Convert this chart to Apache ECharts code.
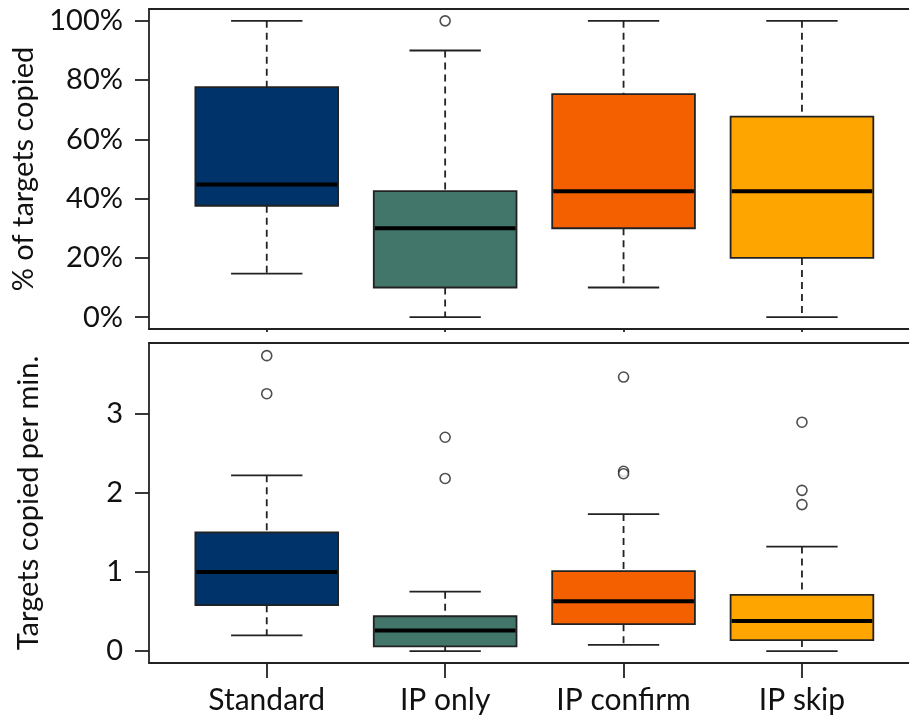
<!DOCTYPE html>
<html>
<head>
<meta charset="utf-8">
<script src="https://cdn.jsdelivr.net/npm/echarts@6/dist/echarts.min.js"></script>
<style>
  html, body { margin: 0; padding: 0; background: #fff; }
  #chart { width: 909px; height: 719px; }
</style>
</head>
<body>
<div id="chart"></div>
<script>
// groups along x
const categories = ['Standard', 'IP only', 'IP confirm', 'IP skip'];
const boxColors = ['#003369', '#42766a', '#f45f00', '#ffa500'];

// top panel: % of targets copied -> [min, Q1, median, Q3, max]
const pctStats = [
  [14.7, 37.6, 44.8, 77.6, 100],
  [0, 10, 30, 42.5, 90],
  [10, 30, 42.5, 75.3, 100],
  [0, 20, 42.5, 67.7, 100]
];
const pctOutliers = [[2, 100]];
const pctTicks = [0, 20, 40, 60, 80, 100];

// bottom panel: targets copied per minute
const rateStats = [
  [0.2, 0.58, 1.0, 1.5, 2.22],
  [0, 0.06, 0.26, 0.44, 0.75],
  [0.08, 0.34, 0.63, 1.01, 1.73],
  [0, 0.14, 0.38, 0.71, 1.32]
];
const rateOutliers = [
  [1, 3.73], [1, 3.25],
  [2, 2.7], [2, 2.18],
  [3, 3.46], [3, 2.27], [3, 2.24],
  [4, 2.89], [4, 2.03], [4, 1.85]
];
const rateTicks = [0, 1, 2, 3];

const chart = echarts.init(document.getElementById('chart'));
const font = 'Lato, "DejaVu Sans", sans-serif';
const ink = '#222';

function renderBox(params, api) {
  const x = api.value(0);
  const lo = api.coord([x, api.value(1)]);
  const q1 = api.coord([x, api.value(2)]);
  const med = api.coord([x, api.value(3)]);
  const q3 = api.coord([x, api.value(4)]);
  const hi = api.coord([x, api.value(5)]);
  const half = api.size([0.8, 0])[0] / 2;
  const cap = half / 2;
  const cx = med[0];
  const line = (x1, y1, x2, y2, extra) => ({
    type: 'line',
    shape: { x1: x1, y1: y1, x2: x2, y2: y2 },
    style: Object.assign({ stroke: ink, lineWidth: 1.8 }, extra || {})
  });
  return {
    type: 'group',
    children: [
      line(cx, hi[1], cx, q3[1], { lineDash: [7, 5] }),
      line(cx, q1[1], cx, lo[1], { lineDash: [7, 5] }),
      line(cx - cap, hi[1], cx + cap, hi[1]),
      line(cx - cap, lo[1], cx + cap, lo[1]),
      {
        type: 'rect',
        shape: { x: cx - half, y: q3[1], width: half * 2, height: q1[1] - q3[1] },
        style: { fill: boxColors[params.dataIndex], stroke: ink, lineWidth: 1.8 }
      },
      line(cx - half + 1, med[1], cx + half - 1, med[1], { stroke: '#000', lineWidth: 4 })
    ]
  };
}

function boxData(stats) {
  return stats.map((s, i) => [i + 1].concat(s));
}

const axisLineStyle = { show: true, onZero: false, lineStyle: { color: ink, width: 1.8 } };
const labelStyle = { fontFamily: font, fontSize: 29, color: '#111' };

function xAxes(gridIndex, showLabels) {
  return [
    {
      type: 'value', gridIndex: gridIndex, min: 0.34, max: 4.6,
      axisLine: axisLineStyle,
      axisTick: { show: true, length: showLabels ? 15 : 3, customValues: [1, 2, 3, 4],
        lineStyle: { color: ink, width: 1.8 } },
      axisLabel: Object.assign({}, labelStyle, { show: showLabels, margin: 22, fontSize: 30,
        customValues: [1, 2, 3, 4], formatter: v => categories[Math.round(v) - 1] }),
      splitLine: { show: false }
    },
    {
      type: 'value', gridIndex: gridIndex, position: 'top', min: 0.34, max: 4.6,
      axisLine: axisLineStyle, axisTick: { show: false }, axisLabel: { show: false },
      splitLine: { show: false }
    }
  ];
}

function yAxis(gridIndex, min, max, ticks, name, fmt) {
  return {
    type: 'value', gridIndex: gridIndex, min: min, max: max,
    name: name, nameLocation: 'middle', nameRotate: 90, nameGap: 106,
    nameTextStyle: labelStyle,
    axisLine: axisLineStyle,
    axisTick: { show: true, length: 14, customValues: ticks, lineStyle: { color: ink, width: 1.8 } },
    axisLabel: Object.assign({ margin: 26, customValues: ticks, formatter: fmt }, labelStyle),
    splitLine: { show: false }
  };
}

const outlierStyle = { color: '#fff', borderColor: ink, borderWidth: 1.6 };

chart.setOption({
  animation: false,
  grid: [
    { left: 149, right: 0, top: 9, height: 320 },
    { left: 149, right: 0, top: 343, height: 320 }
  ],
  xAxis: xAxes(0, false).concat(xAxes(1, true)),
  yAxis: [
    yAxis(0, -4, 104, pctTicks, '% of targets copied', v => v + '%'),
    yAxis(1, -0.15, 3.89, rateTicks, 'Targets copied per min.', v => String(v))
  ],
  series: [
    { type: 'custom', xAxisIndex: 0, yAxisIndex: 0, renderItem: renderBox, data: boxData(pctStats) },
    { type: 'scatter', xAxisIndex: 0, yAxisIndex: 0, symbolSize: 10, itemStyle: outlierStyle, data: pctOutliers },
    { type: 'custom', xAxisIndex: 2, yAxisIndex: 1, renderItem: renderBox, data: boxData(rateStats) },
    { type: 'scatter', xAxisIndex: 2, yAxisIndex: 1, symbolSize: 10, itemStyle: outlierStyle, data: rateOutliers }
  ]
});
</script>
</body>
</html>
